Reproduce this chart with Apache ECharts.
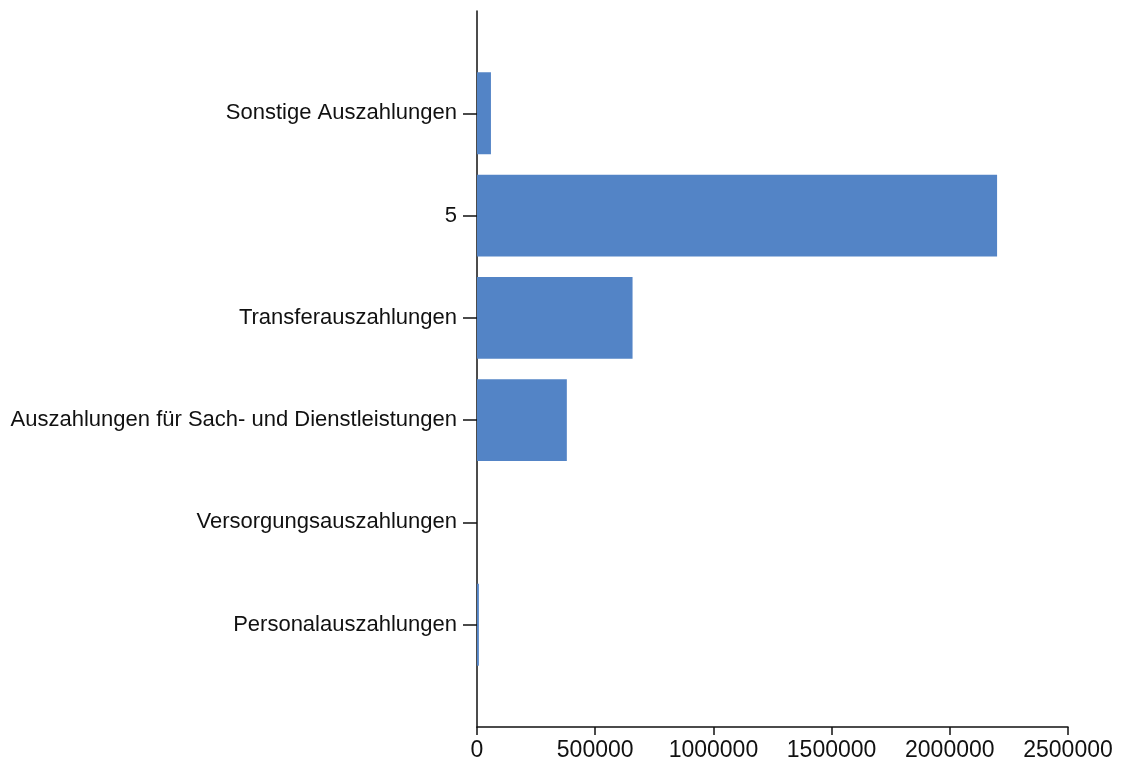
<!DOCTYPE html>
<html>
<head>
<meta charset="utf-8">
<script src="https://cdn.jsdelivr.net/npm/echarts@6/dist/echarts.min.js"></script>
<style>html,body{margin:0;padding:0;background:#fff}#c{width:1127px;height:767px}</style>
</head>
<body>
<div id="c"></div>
<script>
const categories = ['Personalauszahlungen', 'Versorgungsauszahlungen', 'Auszahlungen für Sach- und Dienstleistungen', 'Transferauszahlungen', '5', 'Sonstige Auszahlungen'];
const values = [8000, 0, 380000, 658000, 2200000, 59000];
const xTicks = [0, 500000, 1000000, 1500000, 2000000, 2500000];

// pad one empty slot at each end (the axis spans one slot beyond first/last category)
const axisCats = [''].concat(categories, ['']);
const axisVals = [null].concat(values, [null]);

const chart = echarts.init(document.getElementById('c'));
chart.setOption({
  animation: false,
  grid: { left: 477, right: 59, top: 11, bottom: 40, containLabel: false },
  xAxis: {
    type: 'value', min: xTicks[0], max: xTicks[xTicks.length - 1], interval: xTicks[1] - xTicks[0],
    splitLine: { show: false },
    axisLine: { show: true, lineStyle: { color: '#111', width: 1.5 } },
    axisTick: { show: true, length: 8, lineStyle: { color: '#111', width: 1.5 } },
    axisLabel: { color: '#111', fontSize: 23, fontFamily: 'Liberation Sans, Arial, sans-serif', margin: 12,
      formatter: v => String(v) }
  },
  yAxis: {
    type: 'category', data: axisCats, boundaryGap: false,
    axisLine: { show: true, lineStyle: { color: '#111', width: 1.5 } },
    axisTick: { show: true, length: 14, alignWithLabel: true, interval: (i, v) => v !== '', lineStyle: { color: '#111', width: 1.5 } },
    axisLabel: { color: '#111', fontSize: 22, fontFamily: 'Liberation Sans, Arial, sans-serif', margin: 20, interval: 0 },
    splitLine: { show: false }
  },
  series: [{
    type: 'bar', data: axisVals, barWidth: '80%',
    itemStyle: { color: '#5384C6' }
  }]
});
</script>
</body>
</html>
